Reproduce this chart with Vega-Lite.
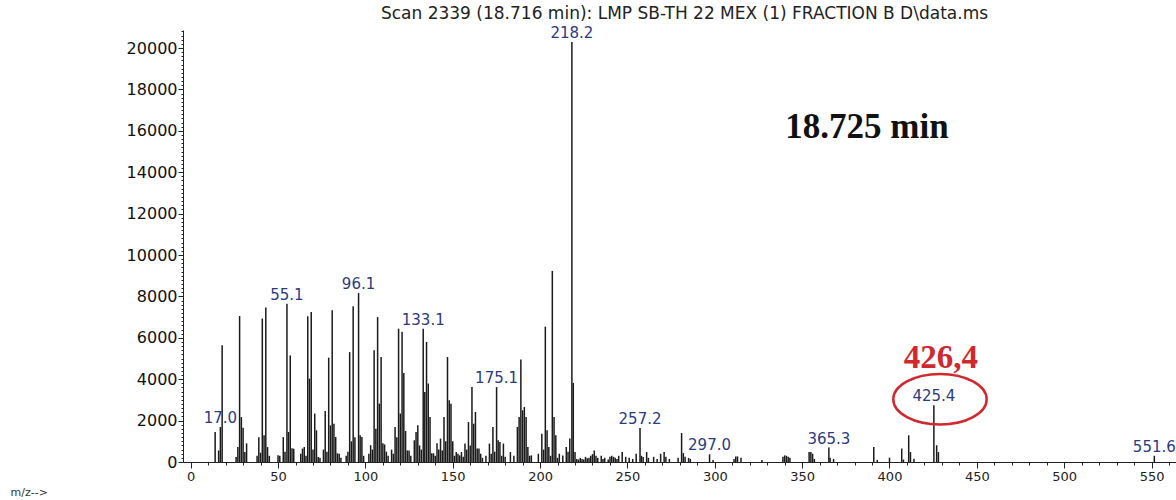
{
  "$schema": "https://vega.github.io/schema/vega-lite/v6.json",
  "width": 993,
  "height": 432,
  "autosize": {"type": "none"},
  "padding": {"left": 183, "top": 30, "right": 0, "bottom": 38},
  "background": "white",
  "config": {"view": {"stroke": null}},
  "title": {"text": "Scan 2339 (18.716 min): LMP SB-TH 22 MEX (1) FRACTION B D\\data.ms", "font": "DejaVu Sans", "fontSize": 17, "fontWeight": "normal", "color": "#222222", "anchor": "middle", "dx": 5, "dy": 3, "offset": 3},
  "datasets": {
    "peaks": [
      {"mz":14,"i":1450},{"mz":16,"i":560},{"mz":17,"i":1690},{"mz":18,"i":5640},
      {"mz":26,"i":240},{"mz":27,"i":720},{"mz":28,"i":7050},{"mz":29,"i":2170},{"mz":30,"i":1650},{"mz":31,"i":480},{"mz":32,"i":900},
      {"mz":38,"i":300},{"mz":39,"i":1200},{"mz":40,"i":450},{"mz":41,"i":6930},{"mz":42,"i":1290},{"mz":43,"i":7460},{"mz":44,"i":720},{"mz":45,"i":300},
      {"mz":50,"i":330},{"mz":51,"i":300},{"mz":53,"i":1200},{"mz":54,"i":500},{"mz":55.1,"i":7650},{"mz":56,"i":1450},{"mz":57,"i":5150},{"mz":58,"i":660},{"mz":59,"i":640},
      {"mz":63,"i":400},{"mz":64,"i":650},{"mz":65,"i":725},{"mz":66,"i":300},{"mz":67,"i":7040},{"mz":68,"i":4030},{"mz":69,"i":7250},{"mz":70,"i":600},{"mz":71,"i":2340},{"mz":72,"i":1530},{"mz":73,"i":240},{"mz":74,"i":200},
      {"mz":76,"i":600},{"mz":77,"i":2460},{"mz":78,"i":500},{"mz":79,"i":5040},{"mz":80,"i":1770},{"mz":81,"i":7330},{"mz":82,"i":1850},{"mz":83,"i":1210},{"mz":84,"i":420},{"mz":85,"i":400},{"mz":86,"i":200},
      {"mz":89,"i":300},{"mz":90,"i":500},{"mz":91,"i":5310},{"mz":92,"i":1000},{"mz":93,"i":7520},{"mz":94,"i":1200},{"mz":96.1,"i":8160},{"mz":97,"i":1290},{"mz":98,"i":1210},{"mz":99,"i":300},
      {"mz":102,"i":400},{"mz":103,"i":810},{"mz":104,"i":600},{"mz":105,"i":5400},{"mz":106,"i":1610},{"mz":107,"i":7000},{"mz":108,"i":2820},{"mz":109,"i":5070},{"mz":110,"i":900},{"mz":111,"i":850},{"mz":112,"i":500},{"mz":113,"i":300},
      {"mz":115,"i":600},{"mz":116,"i":400},{"mz":117,"i":1690},{"mz":118,"i":1200},{"mz":119,"i":6440},{"mz":120,"i":2340},{"mz":121,"i":6290},{"mz":122,"i":4300},{"mz":123,"i":1500},{"mz":124,"i":560},{"mz":125,"i":560},{"mz":126,"i":300},
      {"mz":128,"i":1050},{"mz":129,"i":1450},{"mz":130,"i":1770},{"mz":131,"i":800},{"mz":132,"i":600},{"mz":133.1,"i":6440},{"mz":134,"i":3380},{"mz":135,"i":5800},{"mz":136,"i":3790},{"mz":137,"i":2170},{"mz":138,"i":420},{"mz":139,"i":420},{"mz":140,"i":300},
      {"mz":141,"i":900},{"mz":142,"i":600},{"mz":143,"i":1130},{"mz":144,"i":560},{"mz":145,"i":2170},{"mz":146,"i":1000},{"mz":147,"i":5070},{"mz":148,"i":2980},{"mz":149,"i":2820},{"mz":150,"i":1000},{"mz":151,"i":300},{"mz":152,"i":480},{"mz":153,"i":400},{"mz":154,"i":320},{"mz":155,"i":480},{"mz":156,"i":250},
      {"mz":157,"i":890},{"mz":158,"i":600},{"mz":159,"i":1930},{"mz":160,"i":800},{"mz":161,"i":3620},{"mz":162,"i":1850},{"mz":163,"i":2420},{"mz":164,"i":650},{"mz":165,"i":650},{"mz":166,"i":400},{"mz":167,"i":200},{"mz":169,"i":300},
      {"mz":171,"i":890},{"mz":172,"i":400},{"mz":173,"i":1690},{"mz":174,"i":500},{"mz":175.1,"i":3620},{"mz":176,"i":1050},{"mz":177,"i":970},{"mz":178,"i":300},{"mz":179,"i":890},{"mz":180,"i":250},
      {"mz":183,"i":480},{"mz":185,"i":300},{"mz":187,"i":1690},{"mz":188,"i":2170},{"mz":189,"i":4950},{"mz":190,"i":2500},{"mz":191,"i":2660},{"mz":192,"i":2170},{"mz":193,"i":725},{"mz":194,"i":300},{"mz":195,"i":320},
      {"mz":199,"i":400},{"mz":201,"i":1370},{"mz":202,"i":600},{"mz":203,"i":6540},{"mz":204,"i":1530},{"mz":205,"i":725},{"mz":206,"i":300},{"mz":207,"i":9230},{"mz":208,"i":2170},{"mz":209,"i":1290},{"mz":210,"i":200},{"mz":211,"i":400},{"mz":213,"i":320},{"mz":215,"i":725},{"mz":216,"i":500},{"mz":217,"i":1130},{"mz":218.2,"i":20290},{"mz":219,"i":3820},{"mz":220,"i":480},
      {"mz":221,"i":150},{"mz":222,"i":120},{"mz":223,"i":200},{"mz":224,"i":150},{"mz":225,"i":120},{"mz":226,"i":250},{"mz":227,"i":180},{"mz":228,"i":200},{"mz":229,"i":300},{"mz":230,"i":380},{"mz":231,"i":560},{"mz":232,"i":300},{"mz":233,"i":200},{"mz":235,"i":300},{"mz":236,"i":150},{"mz":237,"i":200},{"mz":239,"i":120},{"mz":240,"i":250},{"mz":241,"i":300},{"mz":242,"i":250},{"mz":243,"i":200},{"mz":244,"i":150},{"mz":245,"i":300},{"mz":247,"i":480},{"mz":249,"i":250},{"mz":251,"i":200},
      {"mz":253,"i":150},{"mz":255,"i":400},{"mz":257.2,"i":1640},{"mz":258,"i":300},{"mz":259,"i":240},{"mz":261,"i":480},{"mz":262,"i":200},{"mz":265,"i":250},{"mz":267,"i":150},{"mz":269,"i":400},{"mz":271,"i":480},{"mz":272,"i":250},{"mz":274,"i":150},
      {"mz":279,"i":200},{"mz":281,"i":1400},{"mz":282,"i":430},{"mz":283,"i":250},{"mz":285,"i":200},{"mz":286,"i":150},
      {"mz":297.0,"i":370},{"mz":299,"i":100},
      {"mz":311,"i":150},{"mz":312,"i":270},{"mz":313,"i":270},{"mz":315,"i":200},
      {"mz":327,"i":100},{"mz":339,"i":250},{"mz":340,"i":320},{"mz":341,"i":300},{"mz":342,"i":250},{"mz":343,"i":200},
      {"mz":354,"i":480},{"mz":355,"i":480},{"mz":356,"i":400},{"mz":357,"i":150},
      {"mz":365.3,"i":700},{"mz":366,"i":200},{"mz":368,"i":150},
      {"mz":391,"i":725},{"mz":393,"i":100},{"mz":400,"i":210},{"mz":407,"i":650},{"mz":408,"i":120},{"mz":411,"i":1290},{"mz":412,"i":480},{"mz":414,"i":160},
      {"mz":425.4,"i":2740},{"mz":427,"i":810},{"mz":428,"i":480},
      {"mz":551.6,"i":300}
    ],
    "labels": [
      {"t":"17.0","mz":17,"i":1690},{"t":"55.1","mz":55.1,"i":7650},{"t":"96.1","mz":96.1,"i":8160},{"t":"133.1","mz":133.1,"i":6440},
      {"t":"175.1","mz":175.1,"i":3620},{"t":"218.2","mz":218.2,"i":20290},{"t":"257.2","mz":257.2,"i":1640},{"t":"297.0","mz":297.0,"i":370},
      {"t":"365.3","mz":365.3,"i":700},{"t":"425.4","mz":425.4,"i":2740},{"t":"551.6","mz":551.6,"i":300}
    ],
    "rt": [{"t":"18.725 min","mz":387.1,"i":15640}],
    "ion": [{"t":"426,4","mz":429.4,"i":4527}],
    "ring": [{"mz":428.9,"i":3029}]
  },
  "layer": [
    {
      "data": {"name": "peaks"},
      "mark": {"type": "rule", "color": "#1a1a1a", "strokeWidth": 1.5},
      "encoding": {
        "x": {"field": "mz", "type": "quantitative",
          "scale": {"domain": [-4.4, 564], "nice": false, "zero": false},
          "axis": {
            "values": [0,10,20,30,40,50,60,70,80,90,100,110,120,130,140,150,160,170,180,190,200,210,220,230,240,250,260,270,280,290,300,310,320,330,340,350,360,370,380,390,400,410,420,430,440,450,460,470,480,490,500,510,520,530,540,550,560],
            "tickCount": 500,
            "format": "d",
            "labelExpr": "datum.value % 50 === 0 ? datum.label : ''",
            "tickSize": {"condition": {"test": "datum.value % 50 === 0", "value": 6}, "value": 3},
            "labelOverlap": false, "labelFlush": false,
            "grid": false, "domainColor": "#222222", "tickColor": "#222222",
            "labelFont": "DejaVu Sans", "labelFontSize": 13, "labelColor": "#222222", "labelPadding": 2,
            "title": "m/z-->", "titleFont": "DejaVu Sans", "titleFontSize": 11, "titleFontWeight": "normal", "titleColor": "#333333",
            "titleX": -173, "titleY": 30, "titleAlign": "left", "titleBaseline": "middle"
          }
        },
        "y": {"field": "i", "type": "quantitative",
          "scale": {"domain": [0, 20870], "nice": false},
          "axis": {
            "values": [0,200,400,600,800,1000,1200,1400,1600,1800,2000,2200,2400,2600,2800,3000,3200,3400,3600,3800,4000,4200,4400,4600,4800,5000,5200,5400,5600,5800,6000,6200,6400,6600,6800,7000,7200,7400,7600,7800,8000,8200,8400,8600,8800,9000,9200,9400,9600,9800,10000,10200,10400,10600,10800,11000,11200,11400,11600,11800,12000,12200,12400,12600,12800,13000,13200,13400,13600,13800,14000,14200,14400,14600,14800,15000,15200,15400,15600,15800,16000,16200,16400,16600,16800,17000,17200,17400,17600,17800,18000,18200,18400,18600,18800,19000,19200,19400,19600,19800,20000,20200,20400,20600,20800],
            "tickCount": 500,
            "format": "d",
            "labelExpr": "datum.value % 2000 === 0 ? datum.label : ''",
            "tickSize": {"condition": {"test": "datum.value % 2000 === 0", "value": 5}, "value": 2},
            "labelOverlap": false, "labelFlush": false,
            "grid": false, "domainColor": "#222222", "tickColor": "#222222",
            "labelFont": "DejaVu Sans", "labelFontSize": 16, "labelColor": "#111111", "labelPadding": 1,
            "title": null
          }
        },
        "y2": {"datum": 0}
      }
    },
    {
      "data": {"name": "labels"},
      "mark": {"type": "text", "font": "DejaVu Sans", "fontSize": 15, "color": "#2b3a80", "align": "center", "baseline": "bottom", "dy": -1},
      "encoding": {
        "x": {"field": "mz", "type": "quantitative"},
        "y": {"field": "i", "type": "quantitative"},
        "text": {"field": "t"}
      }
    },
    {
      "data": {"name": "ring"},
      "mark": {"type": "point", "shape": "M-1,0A1,0.542,0,1,0,1,0A1,0.542,0,1,0,-1,0Z", "size": 8724, "filled": false, "stroke": "#d0282e", "strokeWidth": 2.5, "opacity": 1},
      "encoding": {
        "x": {"field": "mz", "type": "quantitative"},
        "y": {"field": "i", "type": "quantitative"}
      }
    },
    {
      "data": {"name": "rt"},
      "mark": {"type": "text", "font": "Liberation Serif", "fontWeight": "bold", "fontSize": 35, "color": "#111111", "align": "center", "baseline": "alphabetic"},
      "encoding": {
        "x": {"field": "mz", "type": "quantitative"},
        "y": {"field": "i", "type": "quantitative"},
        "text": {"field": "t"}
      }
    },
    {
      "data": {"name": "ion"},
      "mark": {"type": "text", "font": "Liberation Serif", "fontWeight": "bold", "fontSize": 33, "color": "#d0282e", "align": "center", "baseline": "alphabetic"},
      "encoding": {
        "x": {"field": "mz", "type": "quantitative"},
        "y": {"field": "i", "type": "quantitative"},
        "text": {"field": "t"}
      }
    }
  ]
}
